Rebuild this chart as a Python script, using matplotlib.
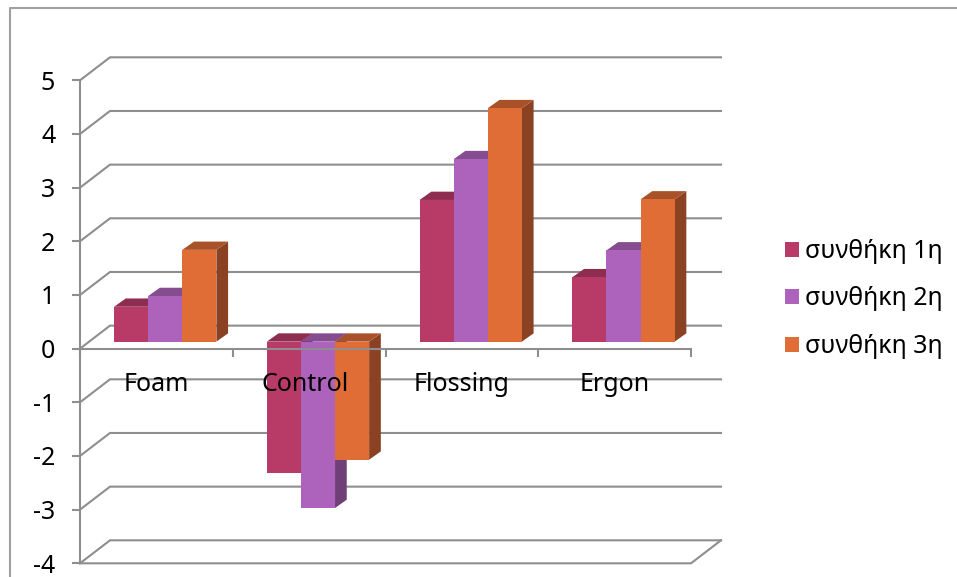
import numpy as np
import matplotlib
matplotlib.use('Agg')
import matplotlib.pyplot as plt
from matplotlib.lines import Line2D
from matplotlib.transforms import ScaledTranslation

plt.rcParams['font.family'] = ['Noto Sans', 'DejaVu Sans']
plt.rcParams['axes.unicode_minus'] = False

categories = ['Foam', 'Control', 'Flossing', 'Ergon']
series_names = ['συνθήκη 1η', 'συνθήκη 2η', 'συνθήκη 3η']
series1 = [0.65, -2.45, 2.64, 1.2]
series2 = [0.85, -3.1, 3.4, 1.7]
series3 = [1.71, -2.2, 4.35, 2.65]
y_ticks = [-4, -3, -2, -1, 0, 1, 2, 3, 4, 5]

front_colors = ['#B83A66', '#AD62BB', '#E06C36']
top_colors = ['#8E2D4F', '#854C90', '#A9522A']
side_colors = ['#73233F', '#6F3F78', '#8A4222']
grid_color = '#8E8E8E'

W, H = 957, 577
fig = plt.figure(figsize=(W / 100, H / 100), dpi=100)
# front plane of the 3D box
ax = fig.add_axes([80 / W, (H - 563.3) / H, (691 - 80) / W, (563.3 - 80.3) / H])
ax.set_xlim(0, 4)
ax.set_ylim(-4, 5)
ax.patch.set_visible(False)
for name in ['top', 'right', 'bottom', 'left']:
    ax.spines[name].set_color(grid_color)
    ax.spines[name].set_linewidth(1.5)
ax.spines['top'].set_visible(False)
ax.spines['right'].set_visible(False)
ax.spines['bottom'].set_position(('data', 0))
# the zero line runs across the front of the bars
ax.spines['bottom'].set_zorder(2.8)

# depth of the box and of the bars, in data units
wall_dx, wall_dy = 30 / 152.75, 23 / 53.7
bar_dx, bar_dy = 11.7 / 152.75, 8.3 / 53.7
shift_x, shift_y = 0.058, 7 / 53.7
bar_w = 34.1 / 152.75

# walls
for t in y_ticks:
    ax.plot([0, wall_dx, 4 + wall_dx], [t, t + wall_dy, t + wall_dy], color=grid_color,
            lw=1.5, zorder=1, clip_on=False, solid_joinstyle='miter')
ax.plot([0, 4, 4 + wall_dx], [-4, -4, -4 + wall_dy], color=grid_color, lw=1.5, zorder=1, clip_on=False)

# bars
x = np.arange(len(categories))
group_left = x + 0.5 - 1.5 * bar_w + shift_x
for i, vals in enumerate([series1, series2, series3]):
    vals = np.array(vals)
    lefts = group_left + i * bar_w
    z = 2 + i * 0.1
    for l, v in zip(lefts, vals):
        top = max(v, 0) + shift_y
        bot = min(v, 0) + shift_y
        r = l + bar_w
        ax.fill([r, r + bar_dx, r + bar_dx, r], [bot, bot + bar_dy, top + bar_dy, top],
                color=side_colors[i], lw=0, zorder=z, clip_on=False)
        ax.fill([l, l + bar_dx, r + bar_dx, r], [top, top + bar_dy, top + bar_dy, top],
                color=top_colors[i], lw=0, zorder=z, clip_on=False)
    ax.bar(lefts, vals, bar_w, bottom=shift_y, align='edge', color=front_colors[i],
           linewidth=0, zorder=z + 0.05, clip_on=False, label=series_names[i])

# axes ticks and labels
ax.set_axisbelow(False)
ax.set_yticks(y_ticks)
ax.set_xticks(range(5))
ax.set_xticklabels([])
ax.set_xticks(x + 0.5, minor=True)
ax.set_xticklabels(categories, minor=True)
ax.tick_params(axis='y', length=5.8, width=1.5, color=grid_color, labelsize=18, pad=12)
ax.tick_params(axis='x', which='major', length=5.8, width=1.5, color=grid_color)
ax.tick_params(axis='x', which='minor', length=0, labelsize=18, pad=16.8)
ax.xaxis.set_zorder(3)
ax.yaxis.set_zorder(3)

# "Control" sits a little left of its slot in the original
control_label = ax.get_xticklabels(minor=True)[1]
control_label.set_transform(control_label.get_transform() + ScaledTranslation(-4 / 100, 0, fig.dpi_scale_trans))

ax.legend(loc='upper left', bbox_to_anchor=(785 / W, (H - 239) / H), bbox_transform=fig.transFigure,
          frameon=False, fontsize=18, handlelength=0.56, handleheight=0.56, handletextpad=0.25,
          labelspacing=0.9, borderpad=0, borderaxespad=0)

# chart area border, cut off by the picture on the right and bottom
fig.add_artist(Line2D([9.5 / W, 9.5 / W, 1], [0, (H - 7.5) / H, (H - 7.5) / H], color='#A0A0A0', lw=1.5))

fig.savefig('out.png', dpi=100)
